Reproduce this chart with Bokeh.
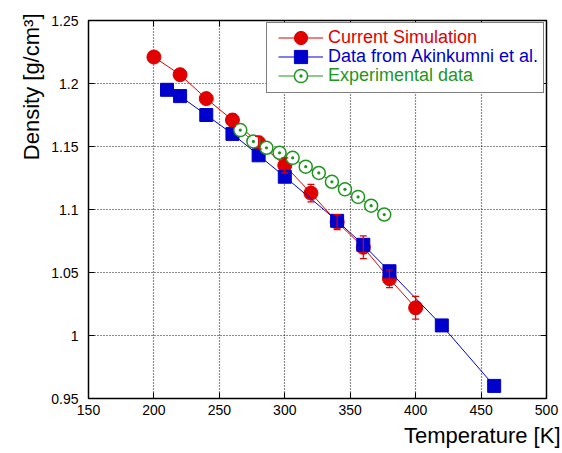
from bokeh.plotting import figure
from bokeh.models import (ColumnDataSource, Whisker, TeeHead, Legend, LegendItem, Title,
                          LinearAxis, FixedTicker, Range1d, CustomJSTickFormatter)
from bokeh.embed import file_html
from bokeh.resources import INLINE

# ---- data ----
sim_T = [200, 220, 240, 260, 280, 300, 320, 340, 360, 380, 400]
sim_rho = [1.221, 1.207, 1.188, 1.171, 1.153, 1.135, 1.113, 1.090, 1.070, 1.045, 1.022]
sim_err = [0.004, 0.004, 0.004, 0.005, 0.005, 0.006, 0.007, 0.006, 0.009, 0.007, 0.009]

aki_T = [210, 220, 240, 260, 280, 300, 340, 360, 380, 420, 460]
aki_rho = [1.195, 1.190, 1.175, 1.160, 1.143, 1.126, 1.091, 1.072, 1.051, 1.008, 0.960]

exp_T = [266, 276, 286, 296, 306, 316, 326, 336, 346, 356, 366, 376]
exp_rho = [1.163, 1.154, 1.149, 1.145, 1.141, 1.134, 1.129, 1.122, 1.116, 1.110, 1.103, 1.096]

series_names = ["Current Simulation", "Data from Akinkumni et al.", "Experimental data"]
x_ticks = [150, 200, 250, 300, 350, 400, 450, 500]
y_ticks = [0.95, 1.0, 1.05, 1.1, 1.15, 1.2, 1.25]
y_tick_labels = ["0.95", "1", "1.05", "1.1", "1.15", "1.2", "1.25"]
x_title = "Temperature [K]"
y_title = "Density [g/cm³]"

RED = "#e00000"
BLUE = "#0000cc"
GREEN = "#1f961f"
FONT = "Liberation Sans"

p = figure(width=562, height=453, output_backend="svg", toolbar_location=None,
           x_range=Range1d(150, 500), y_range=Range1d(0.95, 1.25),
           min_border_left=88, min_border_right=16, min_border_top=20, min_border_bottom=55)
p.background_fill_color = "white"
p.border_fill_color = "white"
p.outline_line_color = "black"
p.outline_line_width = 1.5

# axes
for ax in p.xaxis:
    ax.ticker = FixedTicker(ticks=x_ticks)
for ax in p.yaxis:
    ax.ticker = FixedTicker(ticks=y_ticks)
    ax.major_label_overrides = {t: l for t, l in zip(y_ticks, y_tick_labels)}
for ax in p.xaxis + p.yaxis:
    ax.axis_line_color = None
    ax.major_tick_in = 6
    ax.major_tick_out = 0
    ax.major_tick_line_color = "black"
    ax.minor_tick_line_color = None
    ax.major_label_text_font = FONT
    ax.major_label_text_font_size = "14px"
    ax.major_label_text_color = "black"
p.xaxis.major_label_standoff = 6
p.yaxis.major_label_standoff = 10

blank = CustomJSTickFormatter(code="return ''")
right_ax = LinearAxis(ticker=FixedTicker(ticks=y_ticks), formatter=blank, axis_line_color=None,
                      major_tick_in=6, major_tick_out=0, minor_tick_line_color=None,
                      major_label_standoff=0)
top_ax = LinearAxis(ticker=FixedTicker(ticks=x_ticks), formatter=blank, axis_line_color=None,
                    major_tick_in=6, major_tick_out=0, minor_tick_line_color=None,
                    major_label_standoff=0)
p.add_layout(right_ax, "right")
p.add_layout(top_ax, "above")

# axis titles as side-panel titles
p.add_layout(Title(text=x_title, align="right", text_font=FONT, text_font_size="22px",
                   text_font_style="normal", text_color="black", standoff=6, offset=-14), "below")
p.add_layout(Title(text=y_title, align="right", text_font=FONT, text_font_size="22px",
                   text_font_style="normal", text_color="black", standoff=9, offset=-7), "left")

# grid
p.xgrid.ticker = FixedTicker(ticks=x_ticks)
p.ygrid.ticker = FixedTicker(ticks=y_ticks)
for g in (p.xgrid, p.ygrid):
    g.grid_line_color = "black"
    g.grid_line_dash = "1 2"
    g.grid_line_width = 1.2
    g.grid_line_alpha = 0.9

# series
sim_src = ColumnDataSource(dict(x=sim_T, y=sim_rho,
                                lower=[r - e for r, e in zip(sim_rho, sim_err)],
                                upper=[r + e for r, e in zip(sim_rho, sim_err)]))
r_line = p.line("x", "y", source=sim_src, line_color=RED, line_width=1)
wh = Whisker(base="x", upper="upper", lower="lower", source=sim_src, line_color=RED, line_width=1.2,
             upper_head=TeeHead(size=7, line_color=RED, line_width=1.2),
             lower_head=TeeHead(size=7, line_color=RED, line_width=1.2), level="glyph")
p.add_layout(wh)
r_pts = p.scatter("x", "y", source=sim_src, marker="circle", size=14,
                  fill_color=RED, line_color=RED)

b_line = p.line(aki_T, aki_rho, line_color=BLUE, line_width=1)
b_pts = p.scatter(aki_T, aki_rho, marker="square", size=13, fill_color=BLUE, line_color=BLUE)

g_line = p.line(exp_T, exp_rho, line_color=GREEN, line_width=1)
g_pts = p.scatter(exp_T, exp_rho, marker="circle_dot", size=13, fill_color="white",
                  line_color=GREEN, line_width=1.5)

# outer legend: white box with black border only (zero-width glyphs, blank labels)
box = Legend(items=[LegendItem(label=" ", renderers=[r_line]),
                    LegendItem(label=" ", renderers=[b_line]),
                    LegendItem(label=" ", renderers=[g_line])],
             location="top_right", margin=2, padding=0, spacing=0,
             glyph_width=0, glyph_height=23, label_height=23, label_width=276,
             label_standoff=0, border_line_color="black", border_line_width=1.8,
             background_fill_color="white", background_fill_alpha=1.0,
             label_text_font_size="18px")
p.add_layout(box)

# one single-entry legend per series: glyph + coloured text
renderer_sets = [[r_line, r_pts], [b_line, b_pts], [g_line, g_pts]]
colors = [RED, BLUE, GREEN]
for i, (name, col, rends) in enumerate(zip(series_names, colors, renderer_sets)):
    vy = 344 - 19 * i
    lg = Legend(items=[LegendItem(label=name, renderers=rends)],
                location=(190, vy), margin=0, padding=0, spacing=0,
                glyph_width=45, glyph_height=33, label_height=19, label_width=10,
                label_standoff=5, border_line_alpha=0, background_fill_alpha=0,
                label_text_color=col, label_text_font=FONT, label_text_font_size="18px",
                label_text_baseline="middle")
    p.add_layout(lg)

open("out.html", "w").write(file_html(p, INLINE))
